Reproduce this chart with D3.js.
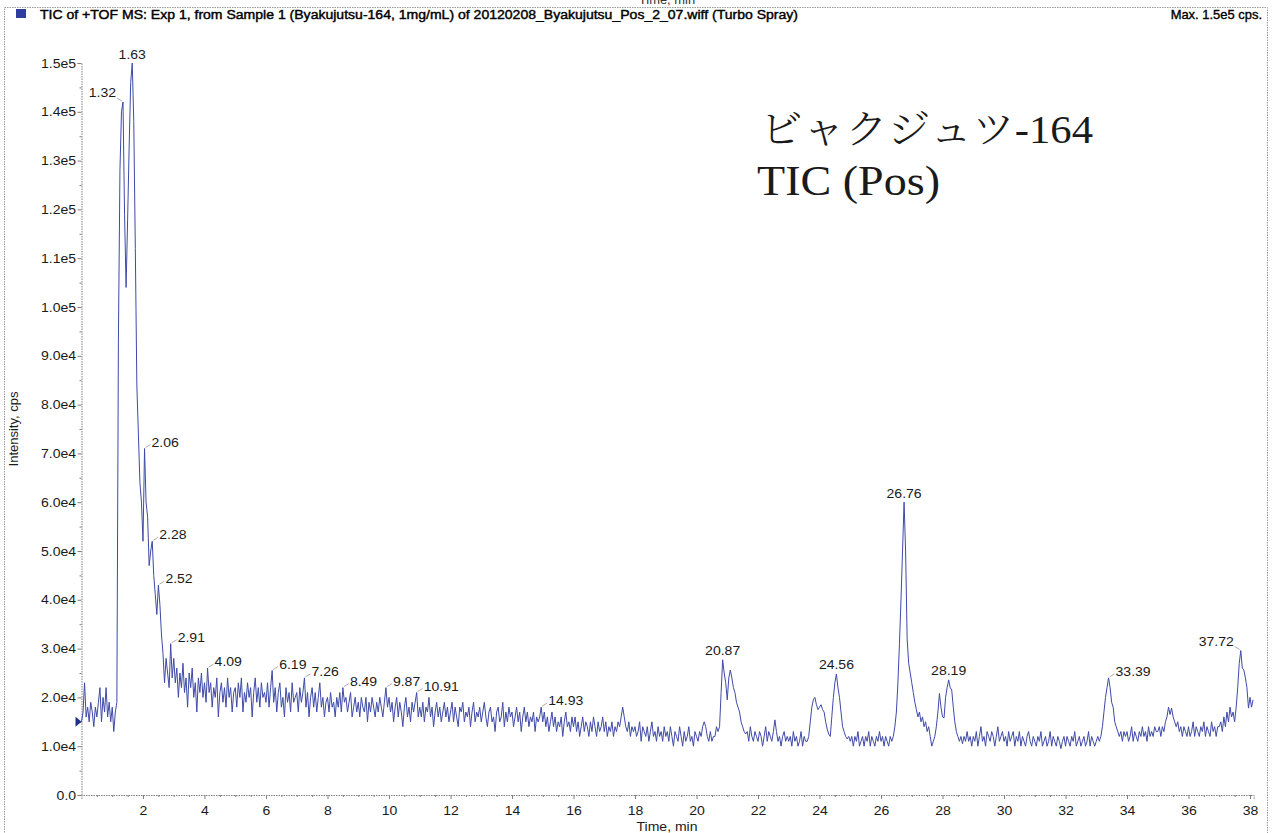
<!DOCTYPE html>
<html><head><meta charset="utf-8">
<script src="https://cdn.jsdelivr.net/npm/d3@7"></script>
<style>html,body{margin:0;padding:0;background:#fff;overflow:hidden}</style>
</head><body>
<svg id="chart" width="1278" height="833"></svg>
<script>
// ---- data (intensity in thousands of cps, sampled every 0.05 min from 0 min) ----
const startTime = 0;
const timeStep = 0.05;
const intensityK = [
 15,17,23,16,18,15,19,17,14,18,16,19,22,15,20,17,22,16,19,15,
 18,13,17,19,93,128,140,142,119,104,118,133,146,150,138,112,84,74,64,60,
 52,71,60,57,47,50,52,45,41,37,43,39,33,29,23,28,25,22,31,24,
 28,23,26,20,25,22,27,21,24,18,25,22,26,20,23,17,24,21,25,20,
 23,19,26,21,23,18,22,20,24,16,21,23,19,22,18,24,20,22,17,21,
 22,18,23,20,24,17,21,19,23,20,22,16,21,24,19,22,18,23,20,21,
 19,23,18,22,25.5,19,22,17,21,23,18,20,16,22,19,21,17,23,19,20,
 21,17,22,19,21,24,18,21,16,20,22,18,21,17,20,23,18,20,16,19,
 20,17,21,18,19,16,20,18,21,17,22,19,20,17,19,21,16,18,20,17,
 19,16,20,18,17,20,15,19,17,20,18,16,19,17,20,18,16,19,22,18,
 20,17,19,15,18,20,16,19,17,14,18,20,16,18,15,19,17,19,21,16,
 18,16,19,15,18,17,20,16,18,14,17,19,16,18,15,17,19,16,18,15,
 17,19,15,18,16,14,18,17,19,15,17,16,18,14,17,19,15,17,16,18,
 15,17,19,16,14,17,18,15,16,13,17,18,15,16,19,14,17,15,18,16,
 17,14,16,18,15,17,13,16,18,15,17,14,16,15,17,13,16,15,16,18,
 15,17,14,16,13,15,17,14,16,13,15,14,16,12,15,17,14,15,13,16,
 14,16,13,15,12,14,16,13,15,14,12,15,13,16,14,12,15,13,14,16,
 13,15,12,14,13,15,12,14,13,15,14,16,18,16,14,13,15,12,14,13,
 14,12,13,15,11,14,13,12,14,11,13,15,12,13,11,14,12,13,11,14,
 12,13,11,14,12,10,13,12,11,14,12,10,13,11,12,14,11,12,10,13,
 12,11,13,12,14,15,14,12,11,13,11,12,12,14,13,14,21,27.7,25,23,
 19.5,24,25.6,24,22,21,19,18,17,15,14,13,12.5,13,11,14,12,11,13,12,
 11,13,12,10,12,14,11,13,12,11,13,15.4,13,11,12,10,12,13,11,12,
 11,12,10,13,11,12,10,11,13,10,12,11,11,12,15,18,19.5,20,18.5,17.5,
 18,18.5,17.5,17,15,13.5,12.5,12,16,20,23,24.8,22,20,17,14,13,12,11.5,12,
 11,12,10,12,11,13,10,11,12,10,12,11,13,10,12,11,10,12,11,13,
 11,12,10,12,11,10,12,11,12,14,17,23,31,40,50,60,50,32,27,25,
 23,21,19,17.5,16,17,15,16,14,15,13,14,12,10,11,12,14,17,20.8,18,
 16,15.8,20,22,23.6,22,21.5,18,15,13,12,11,12,10.5,12,11,13,11,12,10,
 12,11,13,10,12,14,11,12,10,13,12,11,13,12,10,12,14,11,12,13,
 11,12,10,13,11,12,13,10,12,11,13,10,12,11,10,12,13,11,10,12,
 11,10,12,11,13,10,11,12,10,11,13,10,12,11,10,12,11,9.5,11,12,
 10,12,11,10,12,11,13,10,11,12,10,11,12,10,11,13,10,12,11,10,
 11,12,11,12,14,17,20,22,24,22,19,18,15,14,13,12,13,11,13,12,
 13,11,12,14,11,13,12,11,13,12,14,12,13,11,14,12,13,12,14,13,
 13,14,12,14,13,15,16,18,16.5,17.8,16,15,14,15,13,14,12,14,13,12,
 14,12,13,15,12,14,13,12,14,13,15,12,14,13,12,15,13,14,12,14,
 14,15,13,16,14,17,15,18,16,17,15,18,22,27,29.6,26,25.6,24,22,17.8,
 20,18,19.5
];
const peakLabelTimes = [1.32, 1.63, 2.06, 2.28, 2.52, 2.91, 4.09, 6.19, 7.26, 8.49, 9.87, 10.91, 14.93, 20.87, 24.56, 26.76, 28.19, 33.39, 37.72];
const peakLabelSides = ["left","above","right","right","right","right","right","right","right","right","right","right","right","above","above","above","above","right","left"];
const yTickValuesK = [0,10,20,30,40,50,60,70,80,90,100,110,120,130,140,150];
const yTickLabels = ["0.0","1.0e4","2.0e4","3.0e4","4.0e4","5.0e4","6.0e4","7.0e4","8.0e4","9.0e4","1.0e5","1.1e5","1.2e5","1.3e5","1.4e5","1.5e5"];
const yMinorTicksK = [5,15,25,35,45,55,65,75,85,95,105,115,125,135,145];
const xTickValues = [2,4,6,8,10,12,14,16,18,20,22,24,26,28,30,32,34,36,38];
const xMinorTicks = d3.range(1, 77).map(i => i * 0.5).filter(v => v % 2 !== 0);
const startMarkerK = 15;
const headerText = "TIC of +TOF MS: Exp 1, from Sample 1 (Byakujutsu-164, 1mg/mL) of 20120208_Byakujutsu_Pos_2_07.wiff (Turbo Spray)";
const maxText = "Max. 1.5e5 cps.";
const noteLine1 = "ビャクジュツ-164";
const noteLine2 = "TIC (Pos)";

// ---- drawing ----
const FONT = "'Liberation Sans', Arial, sans-serif";
const SX = 1.08;
const FS = 13;
const svg = d3.select("#chart").attr("font-family", FONT);
svg.append("rect").attr("width",1278).attr("height",833).attr("fill","#fff");

const x = d3.scaleLinear().domain([0, 38.12]).range([81.5, 1253.7]);
const y = d3.scaleLinear().domain([0, 150]).range([795, 63]);
const data = intensityK.map((v, i) => ({ t: startTime + i * timeStep, v }));

function stext(px, py, str, anchor, size, fill) {
  return svg.append("text")
    .attr("transform", `translate(${px},${py}) scale(${SX},1)`)
    .attr("text-anchor", anchor).attr("font-size", size)
    .attr("fill", fill || "#1a1a1a").text(str);
}

// frame
svg.append("path").attr("d","M4.5,850 V7.5 H1267.5 V850")
  .attr("fill","none").attr("stroke","#9a9a9a").attr("stroke-dasharray","1.5,1");
// axis title of the panel above, cut by the page edge as in the reference
stext(667, 3.5, "Time, min", "middle", 12, "#333");

// header
svg.append("rect").attr("x",16).attr("y",9).attr("width",10).attr("height",9).attr("fill","#2e3d9e");
svg.append("text").attr("x",40).attr("y",19).attr("font-size",12).attr("fill","#000")
  .attr("stroke","#000").attr("stroke-width",0.4)
  .attr("textLength",758).attr("lengthAdjust","spacingAndGlyphs").text(headerText);
stext(1262, 19, maxText, "end", 12, "#000").attr("stroke","#000").attr("stroke-width",0.35);

// axes
const axisColor = "#808080";
const yAxis = svg.append("g").attr("transform","translate(81.5,0)")
  .call(d3.axisLeft(y).tickValues(yTickValuesK).tickFormat((d,i)=>yTickLabels[i]).tickSize(4).tickPadding(1));
const yMinor = svg.append("g").attr("transform","translate(81.5,0)")
  .call(d3.axisLeft(y).tickValues(yMinorTicksK).tickFormat("").tickSize(2));
const xAxis = svg.append("g").attr("transform","translate(0,795)")
  .call(d3.axisBottom(x).tickValues(xTickValues).tickFormat(d3.format("d")).tickSize(4).tickPadding(7));
const xMinor = svg.append("g").attr("transform","translate(0,795)")
  .call(d3.axisBottom(x).tickValues(xMinorTicks).tickFormat("").tickSize(2));
[yAxis, yMinor, xAxis, xMinor].forEach(g => {
  g.select(".domain").attr("stroke", axisColor).attr("stroke-dasharray","1.5,1");
  g.selectAll(".tick line").attr("stroke", axisColor);
  g.selectAll(".tick text").attr("font-size",FS).attr("fill","#1a1a1a")
    .attr("font-family",FONT).attr("transform",`scale(${SX},1)`);
});
xMinor.select(".domain").remove(); yMinor.select(".domain").remove();

stext(667, 831, "Time, min", "middle", FS, "#1a1a1a");
svg.append("text").attr("transform","translate(18,429) rotate(-90)")
  .attr("text-anchor","middle").attr("font-size",FS).attr("fill","#1a1a1a").text("Intensity, cps");

// trace
const line = d3.line().x(d => x(d.t)).y(d => y(d.v));
svg.append("path").datum(data).attr("d", line)
  .attr("fill","none").attr("stroke","#3f4aa8").attr("stroke-width",1).attr("stroke-linejoin","round");

// start marker
const my = y(startMarkerK);
svg.append("path").attr("d", `M${x(0)-6},${my-5} L${x(0)},${my} L${x(0)-6},${my+5} Z`).attr("fill","#1f2f8f");

// peak labels
peakLabelTimes.forEach((lt, i) => {
  let best = null;
  data.forEach(d => { if (Math.abs(d.t - lt) <= 0.0601 && (!best || d.v > best.v)) best = d; });
  const px = x(best.t), py = y(best.v);
  const side = peakLabelSides[i];
  const txt = lt.toFixed(2);
  if (side === "above") {
    stext(px, py - 4.5, txt, "middle", FS);
  } else if (side === "right") {
    svg.append("line").attr("x1",px+1).attr("y1",py-1).attr("x2",px+6).attr("y2",py-4)
      .attr("stroke","#9a9a9a").attr("stroke-width",0.8);
    stext(px + 7, py - 2, txt, "start", FS);
  } else {
    svg.append("line").attr("x1",px-1).attr("y1",py-1).attr("x2",px-6).attr("y2",py-4)
      .attr("stroke","#9a9a9a").attr("stroke-width",0.8);
    stext(px - 7, py - 5, txt, "end", FS);
  }
});

// annotation
svg.append("text").attr("x",760).attr("y",143).attr("font-size",40)
  .attr("font-family","'Liberation Serif','Noto Serif CJK JP','Noto Sans CJK JP',serif")
  .attr("font-weight",300).attr("fill","#1a1a1a")
  .attr("textLength",333).attr("lengthAdjust","spacingAndGlyphs").text(noteLine1);
svg.append("text").attr("x",757).attr("y",195).attr("font-size",42)
  .attr("font-family","'Liberation Serif','Times New Roman',serif").attr("fill","#1a1a1a")
  .attr("textLength",183).attr("lengthAdjust","spacingAndGlyphs").text(noteLine2);
</script>
</body></html>
